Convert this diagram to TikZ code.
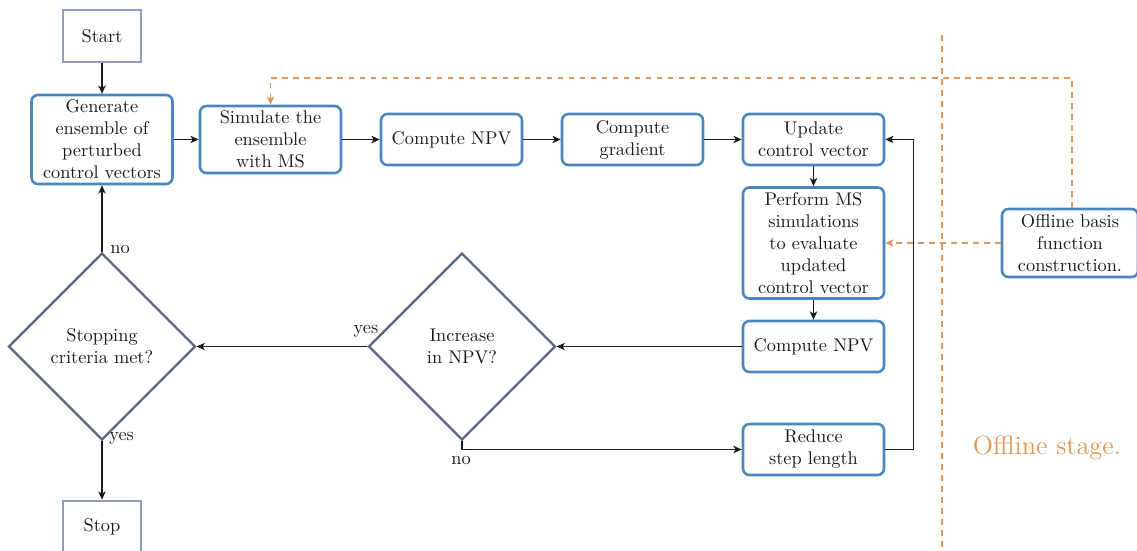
\documentclass[tikz,border=0pt]{standalone}
\usetikzlibrary{shapes.geometric,arrows.meta}
\definecolor{boxblue}{HTML}{4A86C0}
\definecolor{termgray}{HTML}{8E9DBA}
\definecolor{diagray}{HTML}{5B6782}
\definecolor{offorange}{HTML}{E0965A}
\definecolor{txt}{HTML}{1A1A1A}
\newcommand{\pxl}{0.545pt}
\begin{document}
\begin{tikzpicture}[x=0.545pt,y=-0.545pt,
 every node/.style={text=txt},
 proc/.style={draw=boxblue, line width=1.4pt, rounded corners=3.5pt, align=center, inner sep=1pt, minimum width=141*\pxl},
 term/.style={draw=termgray, line width=1.4pt, minimum width=78*\pxl, minimum height=52*\pxl},
 dec/.style={diamond, draw=diagray, line width=1.2pt, align=center, minimum width=187*\pxl, minimum height=187*\pxl, inner sep=0pt},
 conn/.style={line width=0.8pt, draw=txt, -{Stealth[length=4.5pt,width=4pt,inset=1.2pt]}},
 offl/.style={draw=offorange, line width=0.75pt, dash pattern=on 3pt off 3pt, -{Stealth[length=4.5pt,width=4pt,inset=1.2pt]}},
 sep/.style={draw=offorange, line width=1.6pt, dash pattern=on 3.3pt off 2.7pt},
 lbl/.style={inner sep=0pt}
]
\useasboundingbox (0,0) rectangle (1137,551);

% nodes
\node[term] (start) at (102,36) {Start};
\node[proc, minimum height=89*\pxl] (gen) at (102,139.5) {Generate\\ensemble of\\perturbed\\control vectors};
\node[proc, minimum height=67*\pxl] (sim) at (270.5,139.5) {Simulate the\\ensemble\\with MS};
\node[proc, minimum height=51*\pxl] (npv1) at (451.5,139.5) {Compute NPV};
\node[proc, minimum height=51*\pxl] (grad) at (632.5,139.5) {Compute\\gradient};
\node[proc, minimum height=51*\pxl] (upd) at (813.5,139.5) {Update\\control vector};
\node[proc, minimum height=111*\pxl] (perf) at (813.5,243) {Perform MS\\simulations\\to evaluate\\updated\\control vector};
\node[proc, minimum height=51*\pxl] (npv2) at (813.5,346.5) {Compute NPV};
\node[proc, minimum height=51*\pxl] (red) at (813.5,449.5) {Reduce\\step length};
\node[dec] (inc) at (462,346.5) {Increase\\in NPV?};
\node[dec] (stopc) at (102,346.5) {Stopping\\criteria met?};
\node[term] (stop) at (102,527) {Stop};
\node[proc, minimum width=136*\pxl, minimum height=68*\pxl] (off) at (1070,243) {Offline basis\\function\\construction.};
\node[text=offorange, font=\Large] (offst) at (1047,448) {Offline stage.};

\coordinate (septop) at (942,35);
\coordinate (sepbot) at (942,551);
\draw[sep] (septop) -- (sepbot);

% connectors
\draw[conn] (start) -- (gen);
\draw[conn] (gen) -- (sim);
\draw[conn] (sim) -- (npv1);
\draw[conn] (npv1) -- (grad);
\draw[conn] (grad) -- (upd);
\draw[conn] (upd) -- (perf);
\draw[conn] (perf) -- (npv2);
\draw[conn] (npv2) -- (inc);
\draw[conn] (inc) -- (stopc);
\draw[conn] (inc.south) |- (red.west);
\draw[conn] (red.east) -- ++(28,0) |- (upd.east);
\draw[conn] (stopc) -- (gen);
\draw[conn] (stopc) -- (stop);
\draw[offl] (off.north -| 1072,0) -- (1072,78) -| (sim.north);
\draw[offl] (off.west) -- (perf.east);

% labels
\node[lbl, anchor=west] (l1) at (110,249) {no};
\node[lbl, anchor=west] (l2) at (109,438) {yes};
\node[lbl] (l3) at (366,331) {yes};
\node[lbl] (l4) at (461,460) {no};
\end{tikzpicture}
\end{document}
